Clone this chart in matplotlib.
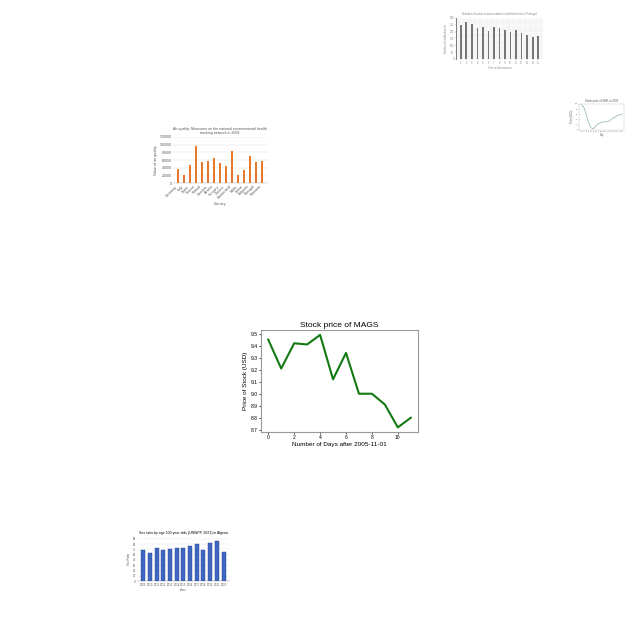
import matplotlib
matplotlib.use("Agg")
import matplotlib.pyplot as plt

plt.rcParams['font.family'] = ['Liberation Sans', 'DejaVu Sans']

# main chart: stock price of MAGS
days = list(range(12))
mags_price = [9.45, 9.21, 9.42, 9.41, 9.49, 9.12, 9.34, 9.00, 9.00, 8.91, 8.72, 8.80]

# small orange bar chart (air quality)
countries = ["Germany", "Italy", "Spain", "France", "Poland", "Czechia", "Austria",
             "Hungary", "Greece", "Switzerland", "Malta", "Latvia", "Belgium",
             "Portugal", "Romania"]
air_quality = [35300, 21000, 46000, 97000, 55000, 56500, 65000, 53000, 45000,
               83000, 21000, 34500, 71500, 55000, 56500]

# small gray bar chart (top right)
gray_labels = [str(i) for i in range(1, 16)]
gray_values = [246, 270, 252, 225, 231, 207, 231, 225, 213, 198, 210, 189, 177, 159, 171]

# small line chart (right)
line_x = list(range(18))
line_y = [96, 88, 62, 30, 8, 4, 14, 23, 27, 30, 31, 32, 35, 45, 48, 55, 58, 60]

# small blue bar chart (bottom left)
years = [str(y) for y in range(2009, 2022)]
sex_ratio = [70, 63, 76, 71, 73, 74, 76, 80, 83, 70, 86, 91, 66]

fig = plt.figure(figsize=(6.4, 6.4), dpi=100)
fig.patch.set_facecolor("white")

# --- main chart ---
ax = fig.add_axes([0.408, 0.325, 0.245, 0.159])
ax.plot(days, mags_price, color="#137a13", linewidth=1.5)
ax.set_title("Stock price of MAGS", fontsize=6.0, pad=2)
ax.set_xlabel("Number of Days after 2005-11-01", fontsize=4.6, labelpad=1)
ax.set_ylabel("Price of Stock (USD)", fontsize=4.6, labelpad=1.5)
ax.set_xticks([0, 2, 4, 6, 8, 10])
ax.set_yticks([8.7, 8.8, 8.9, 9.0, 9.1, 9.2, 9.3, 9.4, 9.5])
ax.tick_params(labelsize=3.6, length=1.5, width=0.5, pad=1)
for s in ax.spines.values():
    s.set_color("#999999")
    s.set_linewidth(0.8)

# --- orange bars ---
ax2 = fig.add_axes([0.270, 0.714, 0.148, 0.072])
ax2.bar(countries, air_quality, color="#e8792b", width=0.35, zorder=3)
ax2.set_ylim(0, 120000)
ax2.set_yticks(range(0, 120001, 20000))
ax2.grid(axis="y", color="#dddddd", linewidth=0.3, zorder=0)
ax2.set_title("Air quality: Measures on the national environmental health\ntracking network in 2008",
              fontsize=2.6, color="#555555", pad=2)
ax2.set_xlabel("Country", fontsize=2.6, color="#555555", labelpad=1)
ax2.set_ylabel("Value of air quality", fontsize=2.6, color="#555555", labelpad=1)
ax2.tick_params(labelsize=2.5, length=0, pad=1, colors="#555555")
plt.setp(ax2.get_xticklabels(), rotation=45, ha="right")
for s in ax2.spines.values():
    s.set_visible(False)
ax2.spines["bottom"].set_visible(True)
ax2.spines["bottom"].set_linewidth(0.3)
ax2.spines["bottom"].set_color("#bbbbbb")

# --- gray bars ---
ax3 = fig.add_axes([0.7125, 0.908, 0.136, 0.064])
ax3.set_facecolor("#f4f4f4")
ax3.bar(gray_labels, gray_values, color="#777777", width=0.3, zorder=3)
ax3.set_ylim(0, 300)
ax3.set_yticks(range(0, 301, 50))
ax3.grid(color="white", linewidth=0.4, zorder=0)
ax3.set_title("Number of tourist accommodation establishments in Portugal", fontsize=2.0,
              color="#888888", pad=2)
ax3.set_xlabel("Year of observation", fontsize=2.0, color="#888888", labelpad=1)
ax3.set_ylabel("Number of establishments", fontsize=1.8, color="#888888", labelpad=1)
ax3.tick_params(labelsize=1.8, length=0.8, width=0.3, pad=0.5, colors="#888888")
for s in ax3.spines.values():
    s.set_visible(False)
ax3.spines["left"].set_visible(True)
ax3.spines["left"].set_linewidth(0.6)
ax3.spines["left"].set_color("#666666")

# --- line chart ---
ax4 = fig.add_axes([0.905, 0.797, 0.070, 0.041])
ax4.plot(line_x, line_y, color="#9cc2a8", linewidth=0.6)
ax4.set_xticks(line_x)
ax4.set_title("Stock price of GRK in 2003", fontsize=2.0, color="#555555", pad=1)
ax4.set_xlabel("Day", fontsize=1.8, color="#555555", labelpad=0.5)
ax4.set_ylabel("Price (USD)", fontsize=1.8, color="#555555", labelpad=0.5)
ax4.tick_params(labelsize=1.4, length=0.6, width=0.2, pad=0.4, colors="#555555")
for s in ax4.spines.values():
    s.set_linewidth(0.2)
    s.set_color("#aaaaaa")

# --- blue bars ---
ax5 = fig.add_axes([0.214, 0.092, 0.145, 0.069])
ax5.bar(years, sex_ratio, color="#3f67c2", edgecolor="#24438f", linewidth=0.3,
        width=0.6, zorder=3)
ax5.set_ylim(0, 100)
ax5.set_yticks(range(0, 101, 12))
ax5.grid(axis="y", color="#e6e6e6", linewidth=0.3, zorder=0)
ax5.set_title("Sex ratio by age 100 year olds (UNWPP, 2021) in Algeria", fontsize=2.5, pad=2)
ax5.set_xlabel("Years", fontsize=2.0, color="#555555", labelpad=1)
ax5.set_ylabel("Sex Ratio", fontsize=2.0, color="#555555", labelpad=1)
ax5.tick_params(labelsize=2.0, length=0, pad=1, colors="#555555")
for s in ax5.spines.values():
    s.set_visible(False)
ax5.spines["bottom"].set_visible(True)
ax5.spines["bottom"].set_linewidth(0.3)
ax5.spines["bottom"].set_color("#999999")

fig.savefig("out.png", dpi=100, facecolor="white")
